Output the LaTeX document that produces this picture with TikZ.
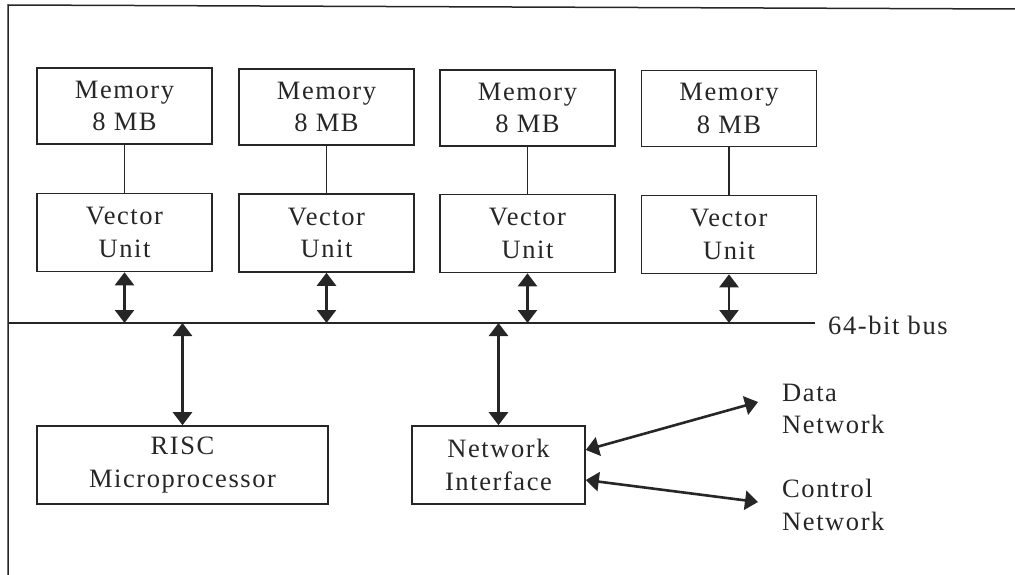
\documentclass[tikz,border=0pt]{standalone}
\usepackage{fontspec}
\setmainfont{Liberation Serif}[LetterSpace=6]
\usetikzlibrary{arrows.meta}
\definecolor{ink}{HTML}{262626}
\begin{document}
\begin{tikzpicture}[x=1pt,y=-1pt,
  box/.style={draw=ink, line width=1.6pt, inner sep=0pt, align=center,
    font=\fontsize{26.5}{32.5}\selectfont, text=ink},
  membox/.style={box, minimum width=175pt, minimum height=76pt},
  vubox/.style={box, minimum width=175pt, minimum height=78pt},
  lbl/.style={inner sep=0pt, align=left, font=\fontsize{26.5}{32.5}\selectfont, text=ink},
  thin/.style={draw=ink, line width=1.5pt},
  dbl/.style={draw=ink, line width=2.6pt, {Triangle[width=19pt,length=13pt]}-{Triangle[width=19pt,length=13pt]}},
]
\useasboundingbox (0,0) rectangle (1015,575);
% frame (only top and left edges visible)
\coordinate (fTL) at (8,5);
\coordinate (fTR) at (1015,9);
\coordinate (fBL) at (8,575);
\draw[thin] (fBL) -- (fTL) -- (fTR);

% memories
\node[membox] (m1) at (124.5,106) {Memory\\8 MB};
\node[membox] (m2) at (326.5,107) {Memory\\8 MB};
\node[membox] (m3) at (527.5,108) {Memory\\8 MB};
\node[membox] (m4) at (729,108.5) {Memory\\8 MB};

% vector units
\node[vubox] (v1) at (124.5,232.5) {Vector\\Unit};
\node[vubox] (v2) at (326.5,233) {Vector\\Unit};
\node[vubox] (v3) at (527.5,233.5) {Vector\\Unit};
\node[vubox] (v4) at (729,234.5) {Vector\\Unit};

\foreach \i in {1,2,3,4} {
  \draw[thin, line width=1.2pt] (m\i.south) -- (v\i.north);
}

% bus
\coordinate (busL) at (8,323);
\coordinate (busR) at (815,323);
\draw[thin] (busL) -- (busR);
\node[lbl, anchor=west] (buslbl) at (828,325) {64-bit bus};

\foreach \i in {1,2,3,4} {
  \draw[dbl] (v\i.south) -- (v\i.south |- busL);
}

% lower boxes
\node[box, minimum width=291pt, minimum height=78pt] (risc) at (182.5,465) {RISC\\Microprocessor};
\node[box, minimum width=173pt, minimum height=78pt] (ni) at (498.5,465) {Network\\Interface};

\draw[dbl] (risc.north |- busL) -- (risc.north);
\draw[dbl] (ni.north |- busL) -- (ni.north);

% networks
\node[lbl, anchor=west] (dn) at (782,409) {Data\\Network};
\node[lbl, anchor=west] (cn) at (782,505) {Control\\Network};
\coordinate (dnEnd) at (758,402);
\coordinate (cnEnd) at (758,502);
\draw[dbl] (ni.east |- 0,450) -- (dnEnd);
\draw[dbl] (ni.east |- 0,480) -- (cnEnd);
\end{tikzpicture}
\end{document}
